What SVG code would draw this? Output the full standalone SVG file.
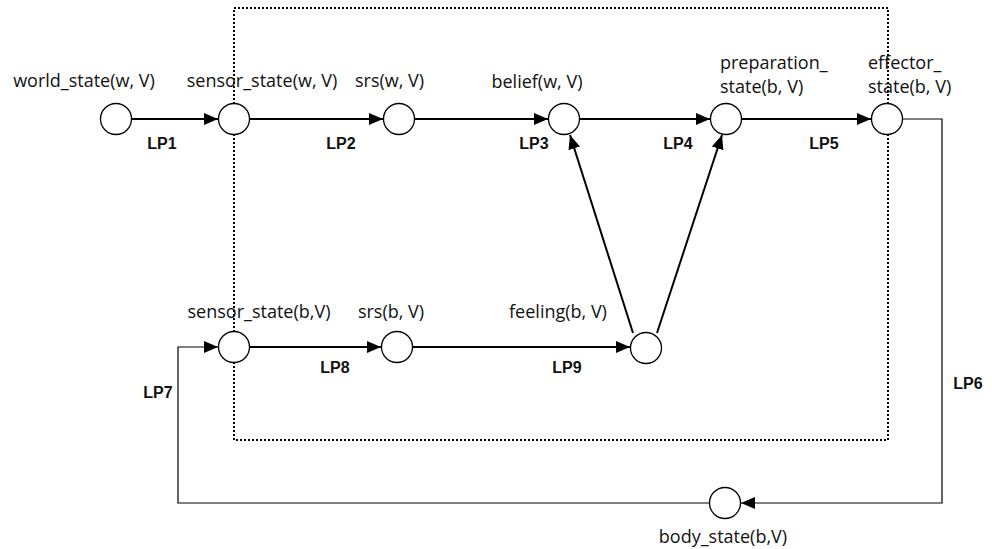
<svg xmlns="http://www.w3.org/2000/svg" width="992" height="549" viewBox="0 0 992 549">
<defs>
<marker id="ah" viewBox="0 0 14 12" refX="14" refY="6" markerWidth="14" markerHeight="12" markerUnits="userSpaceOnUse" orient="auto">
<path d="M0,0 L14,6 L0,12 Z" fill="#000"/>
</marker>
</defs>
<style>
.n{fill:#fff;stroke:#000;stroke-width:1.3}
.t{font-family:"Open Sans",sans-serif;font-size:18px;fill:#111}
.lp{font-family:"Liberation Sans",Arial,sans-serif;font-size:16px;font-weight:bold;fill:#111}
.e{fill:none;stroke:#000;stroke-width:2}
.e1{fill:none;stroke:#000;stroke-width:1.2}
.box{fill:none;stroke:#000;stroke-width:2;stroke-dasharray:2,2}
</style>
<rect class="box" x="234" y="8" width="654" height="432"/>
<g id="connectors">
<line class="e" x1="132" y1="119" x2="218" y2="119" marker-end="url(#ah)"/>
<line class="e" x1="250" y1="119" x2="383" y2="119" marker-end="url(#ah)"/>
<line class="e" x1="415" y1="119" x2="548" y2="119" marker-end="url(#ah)"/>
<line class="e" x1="580" y1="119" x2="710" y2="119" marker-end="url(#ah)"/>
<line class="e" x1="742" y1="119" x2="871" y2="119" marker-end="url(#ah)"/>
<polyline class="e1" points="903,119 942,119 942,503 741,503" marker-end="url(#ah)"/>
<polyline class="e1" points="709,503 178,503 178,347 218,347" marker-end="url(#ah)"/>
<line class="e" x1="250" y1="347" x2="381" y2="347" marker-end="url(#ah)"/>
<line class="e" x1="413" y1="347" x2="630" y2="347" marker-end="url(#ah)"/>
<line class="e" x1="633" y1="333" x2="570" y2="135" marker-end="url(#ah)"/>
<line class="e" x1="657" y1="333" x2="722" y2="135" marker-end="url(#ah)"/>
<text class="lp" x="162" y="149" text-anchor="middle">LP1</text>
<text class="lp" x="341" y="149" text-anchor="middle">LP2</text>
<text class="lp" x="534" y="149" text-anchor="middle">LP3</text>
<text class="lp" x="678" y="149" text-anchor="middle">LP4</text>
<text class="lp" x="824" y="149" text-anchor="middle">LP5</text>
<text class="lp" x="335" y="373" text-anchor="middle">LP8</text>
<text class="lp" x="567" y="373" text-anchor="middle">LP9</text>
<text class="lp" x="968" y="389" text-anchor="middle">LP6</text>
<text class="lp" x="158" y="398" text-anchor="middle">LP7</text>
</g>
<g id="world_state"><circle class="n" cx="116" cy="119" r="15.5"/><text class="t" x="84" y="87" text-anchor="middle">world_state(w, V)</text></g>
<g id="sensor_state_w"><circle class="n" cx="234" cy="119" r="15.5"/><text class="t" x="262" y="87" text-anchor="middle">sensor_state(w, V)</text></g>
<g id="srs_w"><circle class="n" cx="399" cy="119" r="15.5"/><text class="t" x="355" y="87">srs(w, V)</text></g>
<g id="belief"><circle class="n" cx="564" cy="119" r="15.5"/><text class="t" x="537" y="88" text-anchor="middle">belief(w, V)</text></g>
<g id="preparation_state"><circle class="n" cx="726" cy="119" r="15.5"/><text class="t" x="720" y="69">preparation_</text><text class="t" x="720" y="93">state(b, V)</text></g>
<g id="effector_state"><circle class="n" cx="887" cy="119" r="15.5"/><text class="t" x="868" y="69">effector_</text><text class="t" x="868" y="93">state(b, V)</text></g>
<g id="sensor_state_b"><circle class="n" cx="234" cy="347" r="15.5"/><text class="t" x="259" y="318" text-anchor="middle">sensor_state(b,V)</text></g>
<g id="srs_b"><circle class="n" cx="397" cy="347" r="15.5"/><text class="t" x="391" y="318" text-anchor="middle">srs(b, V)</text></g>
<g id="feeling"><circle class="n" cx="646" cy="348" r="15.5"/><text class="t" x="558" y="318" text-anchor="middle">feeling(b, V)</text></g>
<g id="body_state"><circle class="n" cx="725" cy="503" r="15.5"/><text class="t" x="723" y="543" text-anchor="middle">body_state(b,V)</text></g>
</svg>
